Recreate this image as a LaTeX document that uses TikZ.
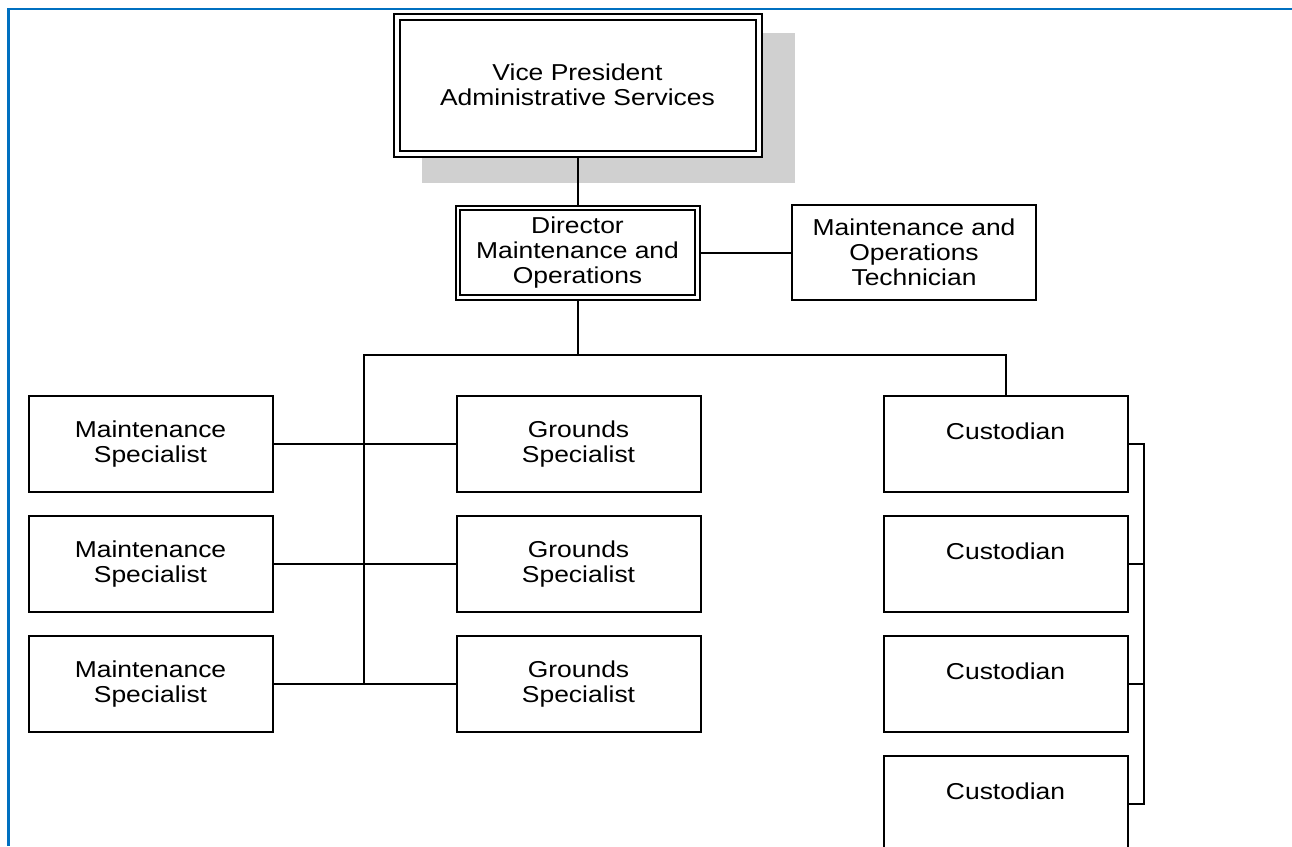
\documentclass[tikz,border=0pt]{standalone}
\usepackage{fontspec}
\setmainfont{Liberation Sans}[FakeStretch=1.15]
\definecolor{frameblue}{HTML}{0070C0}
\definecolor{shadowgray}{HTML}{D0D0D0}
\begin{document}
\begin{tikzpicture}[x=1pt,y=-1pt,
        font=\fontsize{23}{25}\selectfont,
        unitbox/.style={draw,fill=white,line width=2pt,inner sep=0pt,align=center,
            minimum width=244pt,minimum height=96pt},
        headbox/.style={draw,fill=white,line width=2pt,double,inner sep=0pt,align=center},
        wire/.style={line width=2pt}]
        \useasboundingbox (0,0) rectangle (1292,846);
        \clip (0,0) rectangle (1292,846);

        \fill[shadowgray] (422,33) rectangle (795,183);

        \node[headbox,double distance=4pt,outer sep=4pt,minimum width=362pt,minimum height=137pt] (vp)  at (577.5,85) {Vice President\\Administrative Services};
        \node[headbox,double distance=2.6pt,outer sep=3.3pt,minimum width=239.4pt,minimum height=89.4pt] (dir)  at (577.5,252.5) {Director\\Maintenance and\\Operations};
        \node[unitbox,minimum height=95pt] (tech)  at (914,252.5) {Maintenance and\\Operations\\Technician};

        \node[unitbox] (ms1)  at (150.5,444) {Maintenance\\Specialist};
        \node[unitbox] (ms2)  at (150.5,564) {Maintenance\\Specialist};
        \node[unitbox] (ms3)  at (150.5,684) {Maintenance\\Specialist};

        \node[unitbox] (gs1)  at (578.5,444) {Grounds\\Specialist};
        \node[unitbox] (gs2)  at (578.5,564) {Grounds\\Specialist};
        \node[unitbox] (gs3)  at (578.5,684) {Grounds\\Specialist};

        \node[unitbox] (cus1)  at (1005.5,444) {Custodian\\\mbox{}};
        \node[unitbox] (cus2)  at (1005.5,564) {Custodian\\\mbox{}};
        \node[unitbox] (cus3)  at (1005.5,684) {Custodian\\\mbox{}};
        \node[unitbox] (cus4)  at (1005.5,804) {Custodian\\\mbox{}};

        \coordinate (busl) at (364,355);
        \coordinate (busr) at (1005.5,355);

        \path [-, wire] (vp) edge (dir);
        \path [-, wire] (dir) edge (tech);
        \path [-, wire] (ms1) edge (gs1);
        \path [-, wire] (ms2) edge (gs2);
        \path [-, wire] (ms3) edge (gs3);

        \draw[wire] (dir.south) -- (dir.south |- busl);
        \draw[wire] (busl |- ms3.east) -- (busl) -- (busr) -- (cus1.north);

        \draw[wire] (cus1.east) -- ++(15,0) |- (cus4.east);
        \draw[wire] (cus2.east) -- ++(15,0);
        \draw[wire] (cus3.east) -- ++(15,0);

        \draw[frameblue, line width=2.4pt] (8.5,846) -- (8.5,9) -- (1292,9);
    \end{tikzpicture}
\end{document}
